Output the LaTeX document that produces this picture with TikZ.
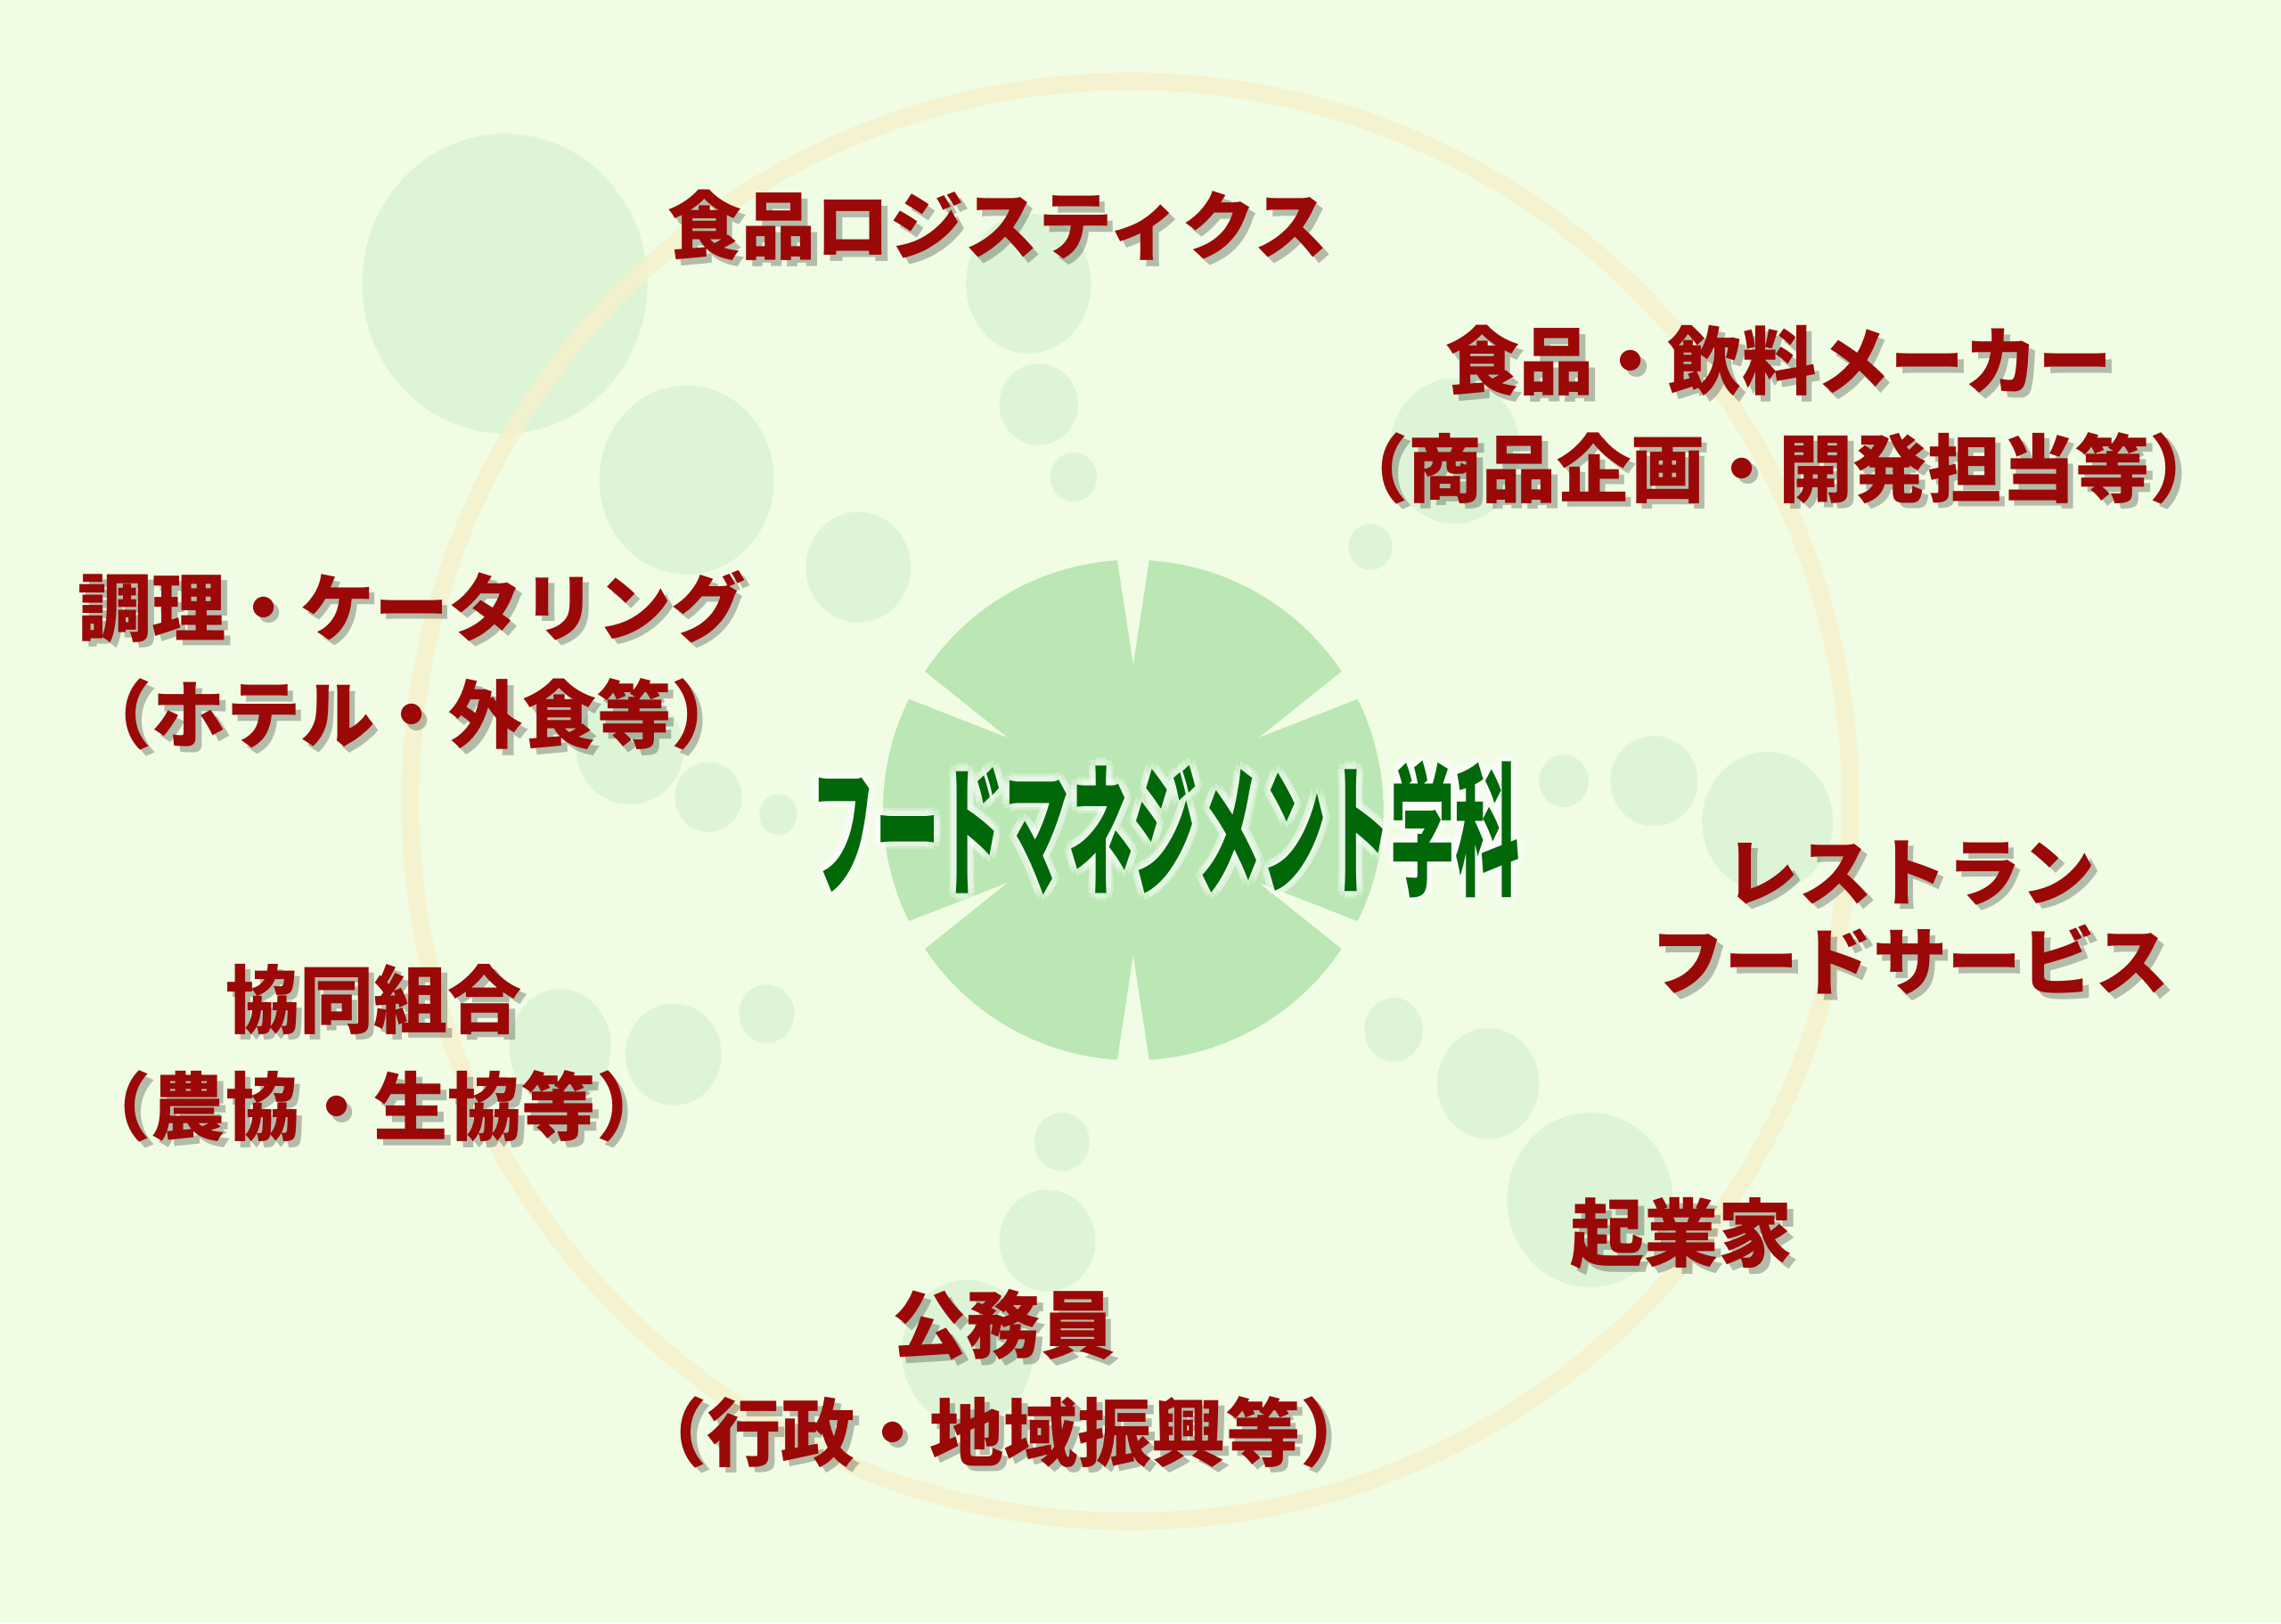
\documentclass[tikz,border=0pt]{standalone}
\usepackage{fontspec}
\newfontfamily\jpfont{Noto Sans CJK JP}[BoldFont={Noto Sans CJK JP Black}]
\usetikzlibrary{calc}

\definecolor{bgcol}{RGB}{240,252,228}
\definecolor{bubblecol}{RGB}{221,245,214}
\definecolor{disccol}{RGB}{186,231,180}
\definecolor{ringcol}{RGB}{246,241,204}
\definecolor{careercol}{RGB}{155,8,8}
\definecolor{titlecol}{RGB}{0,104,8}

\tikzset{
  bubble/.style={fill=bubblecol},
  career/.style={font=\jpfont\bfseries\fontsize{14.5pt}{21pt}\selectfont, text=careercol, align=center, inner sep=0pt},
  careershadow/.style={career, text=black, opacity=0.25},
  title/.style={font=\jpfont\bfseries\fontsize{28pt}{30pt}\selectfont, text=titlecol, inner sep=0pt},
  titleglow/.style={title, text=white, opacity=0.3}
}

% label with a drop shadow
\newcommand{\careerlabel}[4][]{%
  \node[careershadow, #1] at ($(#3)+(4,4)$) {#4};
  \node[career, #1] (#2) at (#3) {#4};
}

\begin{document}
\begin{tikzpicture}[x=0.1mm, y=-0.1mm]
\useasboundingbox (0,0) rectangle (1568,1116);
\fill[bgcol] (0,0) rectangle (1568,1116);

% bubbles
\foreach \cx/\cy/\rx/\ry in {347/195/98/103, 472/330/60/65, 707/195/43/48, 714/278/27/28,
  738/328/16/17, 590/390/36/38, 942/376/15/16, 1000/310/45/50,
  1075/537/17/18, 1137/537/30/31, 1215/565/45/48,
  433/515/37/38, 487/548/23/24, 535/560/13/14,
  527/697/19/20, 463/725/33/35, 385/720/35/40,
  730/785/19/20, 720/853/33/35, 665/930/45/50,
  958/708/20/22, 1023/745/35/38, 1093/825/57/60}
\fill[bubble] (\cx,\cy) ellipse [x radius=\rx, y radius=\ry];

% ring
\draw[ringcol, line width=1.2mm, opacity=0.85] (777,551) circle (495);

% centre disc with notches
\coordinate (ctr) at (779,557);
\fill[disccol] (ctr) circle (172);
\foreach \a in {90,30,-30,-90,-150,150}
\fill[bgcol] ($(ctr)+(\a:100)$) -- ($(ctr)+(\a+4:185)$) -- ($(ctr)+(\a-4:185)$) -- cycle;

% title
\foreach \a in {0,45,...,315}
\node[titleglow] at ($(801,570)+(\a:5)$) {\scalebox{0.45}[1]{フードマネジメント学科}};
\node[title] (dept) at (801,570) {\scalebox{0.45}[1]{フードマネジメント学科}};

% careers
\careerlabel{logistics}{686,155}{食品ロジスティクス}
\careerlabel{maker}{1223,285}{食品・飲料メーカー\\（商品企画・開発担当等）}
\careerlabel{catering}{283,454}{調理・ケータリング\\（ホテル・外食等）}
\careerlabel{coop}{257,724}{協同組合\\（農協・生協等）}
\careerlabel[font=\jpfont\bfseries\fontsize{14.5pt}{17.6pt}\selectfont]{restaurant}{1313,631}{レストラン\\フードサービス}
\careerlabel{entre}{1156,848}{起業家}
\careerlabel{public}{690,948}{公務員\\（行政・地域振興等）}
\end{tikzpicture}
\end{document}
